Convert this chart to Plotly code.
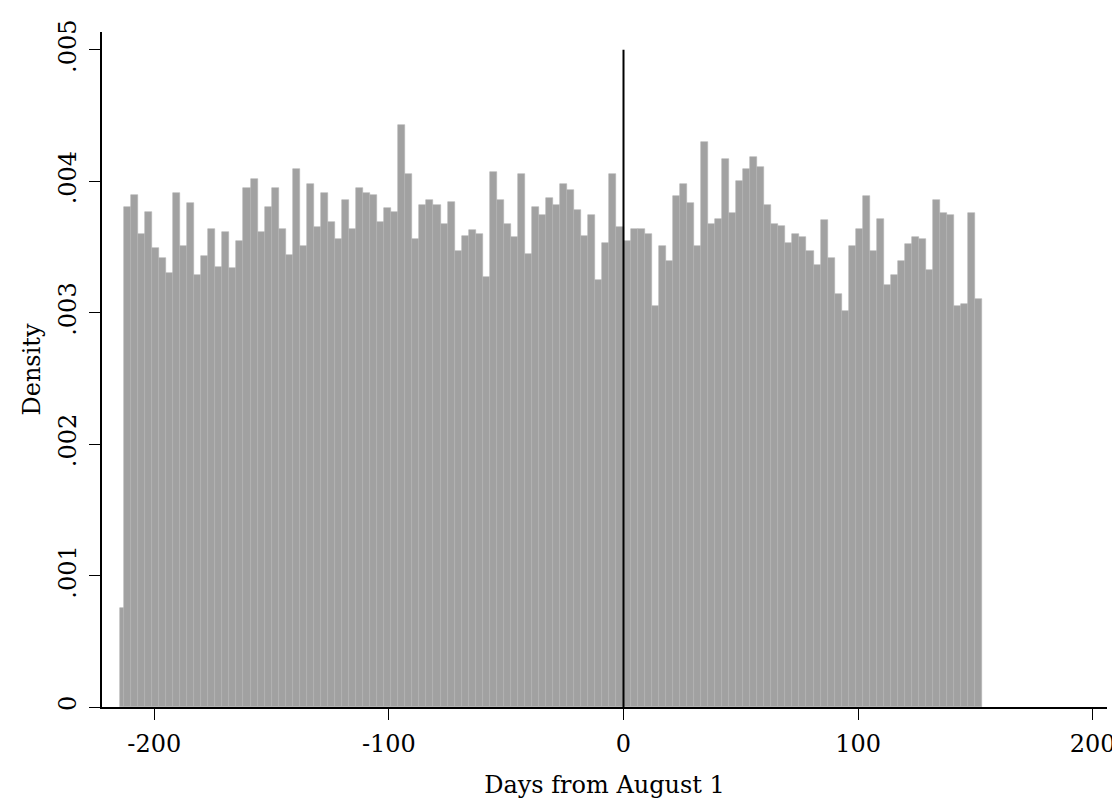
import plotly.graph_objects as go

# ---- data ----
bin_width = 3
first_edge = -213          # left edge of first full 3-day bin
density = [
    3.805, 3.898, 3.598, 3.768, 3.493, 3.415, 3.298, 3.910, 3.508, 3.833,
    3.285, 3.428, 3.638, 3.350, 3.613, 3.338, 3.548, 3.950, 4.015, 3.613,
    3.805, 3.950, 3.638, 3.440, 4.093, 3.508, 3.975, 3.650, 3.910, 3.690,
    3.560, 3.858, 3.638, 3.950, 3.910, 3.898, 3.690, 3.793, 3.768, 4.430,
    4.055, 3.560, 3.820, 3.858, 3.820, 3.678, 3.845, 3.468, 3.585, 3.625,
    3.598, 3.273, 4.068, 3.858, 3.678, 3.573, 4.055, 3.443, 3.805, 3.740,
    3.870, 3.820, 3.975, 3.935, 3.780, 3.585, 3.740, 3.248, 3.533, 4.055,
    3.650, 3.548, 3.638, 3.638, 3.598, 3.053, 3.508, 3.390, 3.885, 3.975,
    3.833, 3.508, 4.300, 3.675, 3.715, 4.170, 3.755, 4.003, 4.093, 4.183,
    4.105, 3.820, 3.675, 3.663, 3.533, 3.598, 3.573, 3.468, 3.365, 3.703,
    3.415, 3.143, 3.013, 3.508, 3.638, 3.885, 3.468, 3.715, 3.208, 3.285,
    3.390, 3.520, 3.573, 3.560, 3.325, 3.858, 3.755, 3.740, 3.053, 3.065,
    3.755, 3.103,
]  # in units of 1/1000
partial_bin_edges = [-214.5, -213]
partial_bin_density = [0.75]  # in units of 1/1000

x_ticks = [-200, -100, 0, 100, 200]
x_ticktext = ["-200", "-100", "0", "100", "200"]
y_ticks = [0, 0.001, 0.002, 0.003, 0.004, 0.005]
y_ticktext = ["0", ".001", ".002", ".003", ".004", ".005"]
cutoff = 0
line_top = 0.005

# ---- build bars ----
centers = [first_edge + bin_width * (i + 0.5) for i in range(len(density))]
widths = [bin_width] * len(density)
heights = [d / 1000 for d in density]

pc = (partial_bin_edges[0] + partial_bin_edges[1]) / 2
pw = partial_bin_edges[1] - partial_bin_edges[0]

xs = [pc] + centers
ws = [pw] + widths
hs = [partial_bin_density[0] / 1000] + heights

FONT = "DejaVu Serif"
FS = 24

fig = go.Figure()
fig.add_trace(go.Bar(
    x=xs, y=hs, width=ws,
    marker=dict(color="#a1a1a1", line=dict(color="#b3b3b3", width=0.6)),
    showlegend=False,
))

fig.add_shape(type="line", x0=cutoff, x1=cutoff, y0=0, y1=line_top,
              xref="x", yref="y", line=dict(color="black", width=2), layer="above")

fig.update_layout(
    width=1120, height=798,
    margin=dict(l=94, r=20, t=15, b=98),
    paper_bgcolor="white", plot_bgcolor="white",
    bargap=0,
    font=dict(family=FONT, color="black", size=FS),
    xaxis=dict(
        range=[-222.3, 206.1],
        tickvals=x_ticks, ticktext=x_ticktext,
        ticks="outside", ticklen=11, tickwidth=1.3, tickcolor="black",
        showline=True, linecolor="black", linewidth=1.5,
        showgrid=False, zeroline=False,
        ticklabelstandoff=3,
        title=dict(text="Days from August 1", font=dict(size=FS), standoff=20),
        tickfont=dict(size=FS),
    ),
    yaxis=dict(
        range=[0, 0.005135],
        tickvals=y_ticks, ticktext=y_ticktext,
        tickangle=-90,
        ticks="outside", ticklen=11, tickwidth=1.3, tickcolor="black",
        showline=True, linecolor="black", linewidth=1.5,
        showgrid=False, zeroline=False,
        ticklabelstandoff=4,
        title=dict(text="Density", font=dict(size=FS), standoff=6),
        tickfont=dict(size=FS),
    ),
)

fig.write_html("out.html")
